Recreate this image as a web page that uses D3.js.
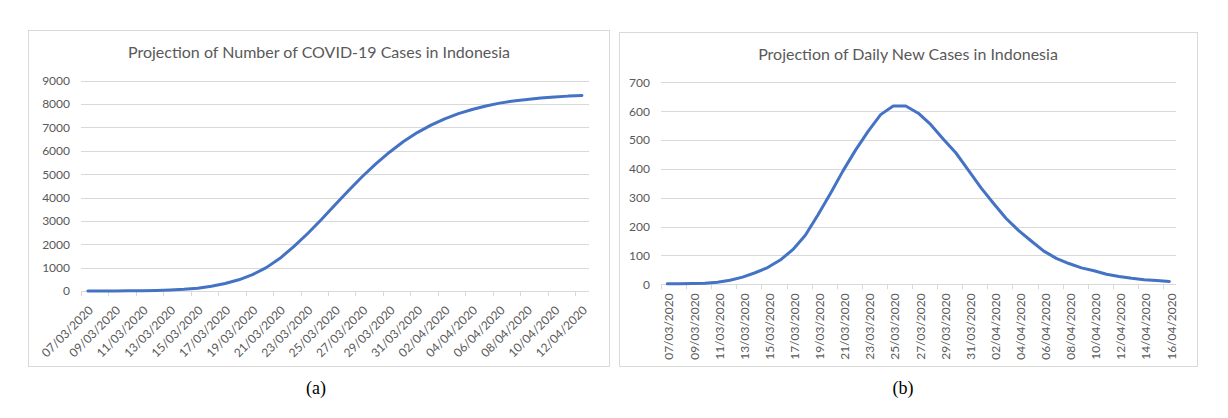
<!DOCTYPE html>
<html>
<head>
<meta charset="utf-8">
<script src="https://cdn.jsdelivr.net/npm/d3@7"></script>
<style>
  html, body { margin: 0; padding: 0; background: #fff; }
  svg { display: block; }
</style>
</head>
<body>
<svg id="chart" width="1228" height="418"></svg>
<script>
// ---------------- DATA ----------------
const casesDates = ["07/03/2020","08/03/2020","09/03/2020","10/03/2020","11/03/2020","12/03/2020","13/03/2020","14/03/2020","15/03/2020","16/03/2020","17/03/2020","18/03/2020","19/03/2020","20/03/2020","21/03/2020","22/03/2020","23/03/2020","24/03/2020","25/03/2020","26/03/2020","27/03/2020","28/03/2020","29/03/2020","30/03/2020","31/03/2020","01/04/2020","02/04/2020","03/04/2020","04/04/2020","05/04/2020","06/04/2020","07/04/2020","08/04/2020","09/04/2020","10/04/2020","11/04/2020","12/04/2020"];
const casesValues = [0,2,5,8,13,22,40,70,120,200,320,480,700,1000,1400,1900,2450,3050,3680,4300,4900,5450,5950,6400,6780,7100,7370,7590,7770,7920,8040,8130,8200,8260,8300,8340,8365];
const casesTicks = [0,1000,2000,3000,4000,5000,6000,7000,8000,9000];

const dailyDates = ["07/03/2020","08/03/2020","09/03/2020","10/03/2020","11/03/2020","12/03/2020","13/03/2020","14/03/2020","15/03/2020","16/03/2020","17/03/2020","18/03/2020","19/03/2020","20/03/2020","21/03/2020","22/03/2020","23/03/2020","24/03/2020","25/03/2020","26/03/2020","27/03/2020","28/03/2020","29/03/2020","30/03/2020","31/03/2020","01/04/2020","02/04/2020","03/04/2020","04/04/2020","05/04/2020","06/04/2020","07/04/2020","08/04/2020","09/04/2020","10/04/2020","11/04/2020","12/04/2020","13/04/2020","14/04/2020","15/04/2020","16/04/2020"];
const dailyValues = [2,2,3,4,7,14,25,40,58,84,120,170,240,315,393,465,530,588,618,618,593,553,503,455,395,334,280,228,186,150,115,90,72,57,47,35,27,21,16,13,10];
const dailyTicks = [0,100,200,300,400,500,600,700];

const titles = ["Projection of Number of COVID-19 Cases in Indonesia", "Projection of Daily New Cases in Indonesia"];
const captions = ["(a)", "(b)"];

// ---------------- DRAW ----------------
const svg = d3.select("#chart");
const FONT = "Lato, 'Open Sans', sans-serif";
const TXT = "#595959", GRID = "#d9d9d9", LINE = "#4472C4";

function panel(cfg) {
  const g = svg.append("g");
  // panel border
  g.append("rect").attr("x", cfg.box[0] + 0.5).attr("y", cfg.box[1] + 0.5)
    .attr("width", cfg.box[2] - cfg.box[0]).attr("height", cfg.box[3] - cfg.box[1])
    .attr("fill", "#fff").attr("stroke", GRID).attr("stroke-width", 1);

  const x = d3.scaleBand().domain(cfg.dates).range([cfg.plot[0], cfg.plot[1]]).padding(0);
  const y = d3.scaleLinear().domain([0, d3.max(cfg.ticks)]).range([cfg.plot[3], cfg.plot[2]]);

  // title
  g.append("text").attr("x", cfg.titlePos[0]).attr("y", cfg.titlePos[1])
    .attr("text-anchor", "middle").attr("font-family", FONT).attr("font-size", cfg.titleSize)
    .attr("fill", TXT).text(cfg.title);

  // y axis with gridlines
  const yAxis = d3.axisLeft(y).tickValues(cfg.ticks).tickSize(-(cfg.plot[1] - cfg.plot[0])).tickPadding(11).tickFormat(d3.format("d"));
  const ya = g.append("g").attr("transform", `translate(${cfg.plot[0]},0)`).call(yAxis);
  ya.select(".domain").remove();
  ya.selectAll(".tick line").attr("stroke", GRID).attr("stroke-width", 1).attr("shape-rendering", "crispEdges");
  ya.selectAll(".tick text").attr("font-family", FONT).attr("font-size", 12).attr("fill", TXT);

  // x axis: tick marks at category boundaries every 2 categories
  const evenDates = cfg.dates.filter((d, i) => i % 2 === 0);
  const tickG = g.append("g");
  tickG.selectAll("line").data(evenDates).join("line")
    .attr("x1", d => Math.round(x(d)) + 0.5).attr("x2", d => Math.round(x(d)) + 0.5)
    .attr("y1", y(0)).attr("y2", y(0) + 5)
    .attr("stroke", GRID).attr("stroke-width", 1);

  // x labels via axis
  const xAxis = d3.axisBottom(x).tickValues(evenDates).tickSize(0).tickPadding(0);
  const xa = g.append("g").attr("transform", `translate(0,${y(0)})`).call(xAxis);
  xa.select(".domain").remove();
  xa.selectAll(".tick line").remove();
  xa.selectAll(".tick text")
    .attr("font-family", FONT).attr("font-size", 12).attr("fill", TXT)
    .attr("text-anchor", "end").attr("y", null).attr("dy", "0.35em")
    .attr("transform", cfg.labelTransform);

  // line
  const line = d3.line()
    .x((d, i) => x(cfg.dates[i]) + x.bandwidth() / 2)
    .y(d => y(d));
  g.append("path").datum(cfg.values).attr("d", line)
    .attr("fill", "none").attr("stroke", LINE).attr("stroke-width", 3)
    .attr("stroke-linejoin", "round").attr("stroke-linecap", "round");

  // caption
  svg.append("text").attr("x", cfg.capPos[0]).attr("y", cfg.capPos[1])
    .attr("text-anchor", "middle").attr("font-family", "'Liberation Serif', 'Times New Roman', serif")
    .attr("font-size", 18).attr("fill", "#000").text(cfg.caption);
}

panel({
  box: [28, 30, 609, 366],
  plot: [81, 588.8, 80.7, 291],
  dates: casesDates, values: casesValues, ticks: casesTicks,
  title: titles[0], titlePos: [319, 58], titleSize: 16,
  labelTransform: "translate(3,17) rotate(-45)",
  caption: captions[0], capPos: [316, 394]
});

panel({
  box: [619, 32, 1197, 366],
  plot: [661, 1175.6, 82.3, 284.3],
  dates: dailyDates, values: dailyValues, ticks: dailyTicks,
  title: titles[1], titlePos: [908, 60], titleSize: 16,
  labelTransform: "translate(2,9) rotate(-90)",
  caption: captions[1], capPos: [903, 394]
});
</script>
</body>
</html>
